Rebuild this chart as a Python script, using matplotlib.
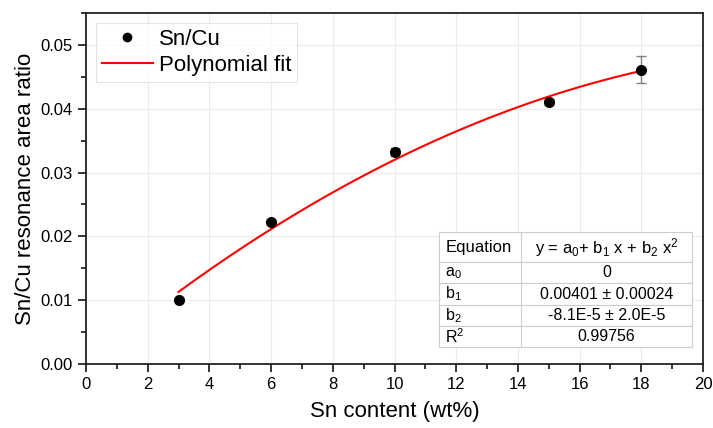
import matplotlib
matplotlib.use("Agg")
import matplotlib.pyplot as plt
import numpy as np
from matplotlib.lines import Line2D
from matplotlib.ticker import MultipleLocator, FormatStrFormatter

plt.rcParams["font.family"] = ["Liberation Sans", "DejaVu Sans"]
plt.rcParams["mathtext.fontset"] = "custom"
plt.rcParams["mathtext.rm"] = "Liberation Sans"
plt.rcParams["mathtext.it"] = "Liberation Sans"

# measured Sn/Cu ratios
sn_content = [3, 6, 10, 15, 18]
ratio = [0.0100, 0.0222, 0.0332, 0.0411, 0.0461]
ratio_err = [0.0002, 0.0003, 0.0006, 0.0005, 0.0021]

# polynomial fit coefficients (a0, b1, b2) as reported in the table
fit_coef = [0.0, 0.00401, -8.1e-5]
fit_range = [3, 18]

table_rows = [
    ["Equation", r"y = a$_0$+ b$_1$ x + b$_2$ x$^2$"],
    [r"a$_0$", "0"],
    [r"b$_1$", "0.00401 ± 0.00024"],
    [r"b$_2$", "-8.1E-5 ± 2.0E-5"],
    [r"R$^2$", "0.99756"],
]

fig = plt.figure(figsize=(7.13, 4.28), dpi=100)
ax = fig.add_axes([0.1206, 0.1495, 0.8654, 0.820])

xf = np.linspace(fit_range[0], fit_range[1], 200)
yf = fit_coef[0] + fit_coef[1] * xf + fit_coef[2] * xf ** 2
ax.plot(xf, yf, "-", color="#ff0000", lw=1.5, zorder=3)
ax.errorbar(sn_content, ratio, yerr=ratio_err, fmt="o", color="black", ms=7,
            ecolor="#808080", elinewidth=1.0, capsize=3.8, capthick=1.0, zorder=4)

ax.set_xlim(0, 20)
ax.set_ylim(0, 0.055)
ax.xaxis.set_major_locator(MultipleLocator(2))
ax.xaxis.set_minor_locator(MultipleLocator(1))
ax.yaxis.set_major_locator(MultipleLocator(0.01))
ax.yaxis.set_minor_locator(MultipleLocator(0.005))
ax.yaxis.set_major_formatter(FormatStrFormatter("%.2f"))
ax.tick_params(which="major", direction="out", length=6, width=1.1, labelsize=12)
ax.tick_params(which="minor", direction="out", length=3.5, width=1.1)
ax.grid(which="major", color="#ebebeb", lw=0.8)
ax.set_axisbelow(True)
for s in ax.spines.values():
    s.set_linewidth(1.3)
    s.set_color("#222222")

ax.set_xlabel("Sn content (wt%)", fontsize=16, labelpad=6)
ax.set_ylabel("Sn/Cu resonance area ratio", fontsize=16, labelpad=3)

handles = [Line2D([], [], ls="none", marker="o", color="black", ms=6),
           Line2D([], [], color="#ff0000", lw=1.5)]
leg = ax.legend(handles, ["Sn/Cu", "Polynomial fit"], loc="upper left", fontsize=16,
                frameon=True, fancybox=False, edgecolor="#dddddd",
                handlelength=2.3, borderaxespad=0.45, labelspacing=0.25,
                borderpad=0.25, handletextpad=0.3)
leg.get_frame().set_linewidth(0.8)

tbl = ax.table(cellText=table_rows, colWidths=[0.324, 0.676],
               bbox=[0.572, 0.0484, 0.410, 0.328], zorder=5)
tbl.auto_set_font_size(False)
for (r, c), cell in tbl.get_celld().items():
    cell.set_edgecolor("#cccccc")
    cell.set_linewidth(0.8)
    cell.set_facecolor("white")
    cell.set_height(30 if r == 0 else 21)
    cell.get_text().set_fontsize(12 if r == 0 else 11.5)
    cell.get_text().set_ha("left" if c == 0 else "center")
    if c == 0:
        cell.PAD = 0.08
    else:
        cell.PAD = 0.02

fig.savefig("out.png", dpi=100)
